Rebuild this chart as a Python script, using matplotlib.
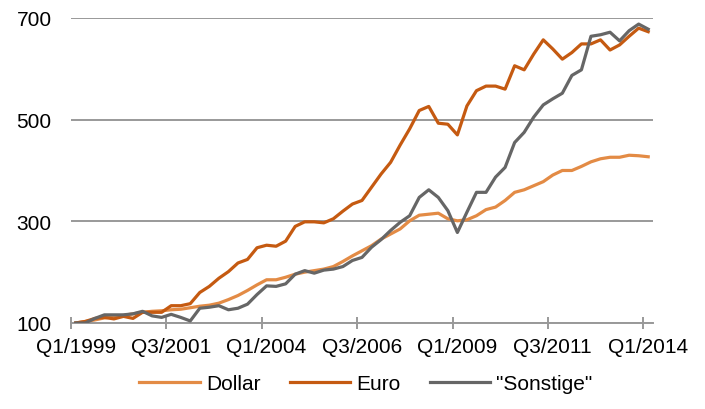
import matplotlib
matplotlib.use("Agg")
from matplotlib import pyplot as plt
import numpy as np

plt.rcParams['font.family'] = ['Liberation Sans', 'DejaVu Sans']

# quarterly index values, Q1/1999 = 100, Q1/1999 .. Q1/2014
quarters = [f'Q{q}/{y}' for y in range(1999, 2015) for q in range(1, 5)][:61]

dollar = [100, 103, 106, 110, 112, 115, 118, 121, 123, 124,
          126, 127, 130, 133, 135, 139, 146, 154, 164, 175,
          185, 185, 190, 196, 200, 203, 206, 211, 221, 232,
          242, 252, 265, 275, 285, 301, 312, 314, 316, 305,
          301, 303, 311, 323, 328, 341, 357, 362, 370, 378,
          391, 400, 400, 408, 417, 423, 426, 426, 430, 429,
          427]

euro = [100, 103, 109, 111, 108, 113, 109, 121, 121, 121,
        134, 134, 138, 160, 172, 188, 201, 218, 225, 248,
        253, 251, 261, 290, 299, 299, 297, 305, 320, 334,
        341, 367, 393, 416, 450, 482, 518, 526, 493, 491,
        470, 527, 557, 566, 566, 560, 606, 598, 629, 657,
        639, 619, 632, 649, 649, 657, 637, 647, 664, 680,
        673]

sonstige = [100, 100, 109, 116, 116, 116, 118, 123, 114, 111,
            117, 111, 104, 129, 131, 134, 126, 129, 137, 156,
            173, 172, 177, 196, 203, 198, 204, 206, 211, 223,
            229, 249, 264, 282, 298, 311, 347, 362, 347, 321,
            278, 318, 357, 357, 387, 406, 455, 475, 505, 529,
            541, 552, 587, 598, 664, 667, 672, 655, 675, 688,
            678]

series = [('Dollar', dollar, '#E38B45'),
          ('Euro', euro, '#C55A11'),
          ('"Sonstige"', sonstige, '#666666')]

fig = plt.figure(figsize=(7.05, 4.10), dpi=100)
ax = fig.add_axes([0.1007, 0.2098, 0.8255, 0.7439])

x = np.arange(len(quarters))
for name, vals, col in series:
    ax.plot(x, vals, color=col, lw=2.3, label=name, solid_joinstyle='round')

# y axis
ax.set_ylim(100, 700)
ax.set_yticks([100, 300, 500, 700])
ax.yaxis.grid(True, color='#999999', lw=1.4)
ax.set_axisbelow(True)
ax.tick_params(axis='y', length=0, pad=14, labelsize=15)

# x axis: labels every 10 quarters, tick marks between categories
ax.set_xlim(-0.5, len(quarters) - 0.5)
ax.set_xticks(x[::10])
ax.set_xticklabels([quarters[i] for i in x[::10]])
ax.set_xticks(np.arange(-0.5, len(quarters) - 1, 10), minor=True)
ax.tick_params(axis='x', which='major', length=0, pad=10, labelsize=15)
ax.tick_params(axis='x', which='minor', direction='inout', length=8,
               width=1.4, color='#999999')

for s in ['top', 'left', 'right']:
    ax.spines[s].set_visible(False)
ax.spines['bottom'].set_color('#999999')
ax.spines['bottom'].set_linewidth(1.4)
ax.spines['bottom'].set_zorder(0.5)

fig.legend(loc='center', bbox_to_anchor=(0.519, 0.061), ncol=3, frameon=False,
           fontsize=15, handlelength=2.9, handletextpad=0.3, columnspacing=1.4)

fig.savefig('out.png', dpi=100)
